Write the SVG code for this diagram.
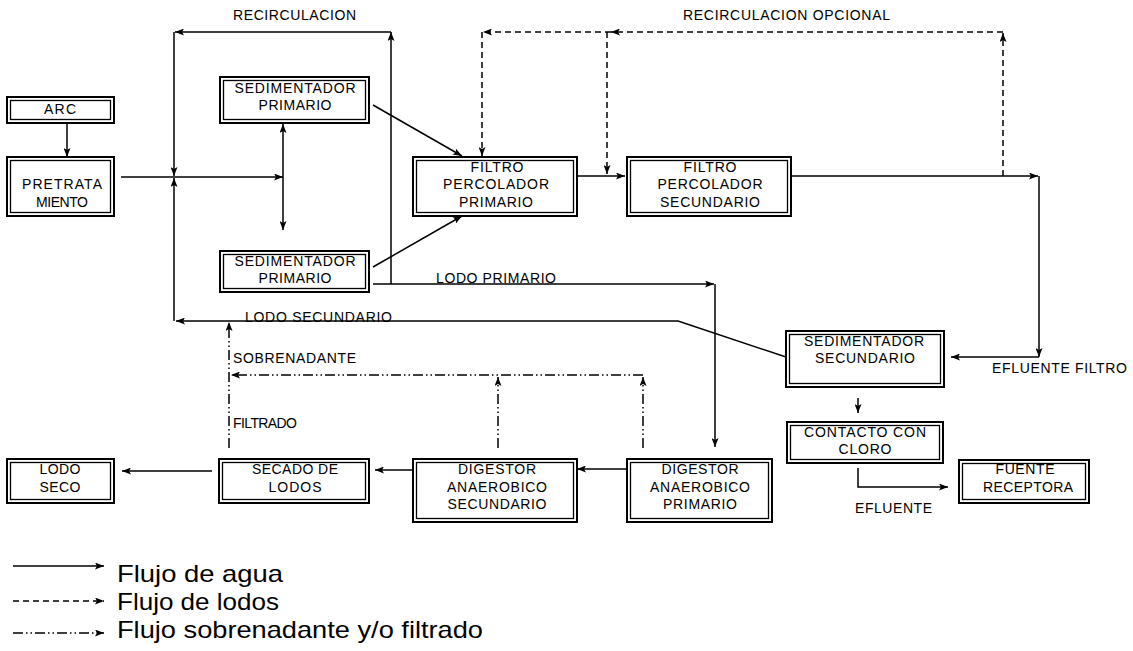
<svg xmlns="http://www.w3.org/2000/svg" width="1133" height="651" viewBox="0 0 1133 651">
<defs>
<style>
.o{fill:#fff;stroke:#000;stroke-width:2}
.i{fill:none;stroke:#000;stroke-width:1.3}
.t{font-family:"Liberation Sans",Arial,sans-serif;font-size:14px;fill:#000;text-anchor:middle}
.l{font-family:"Liberation Sans",Arial,sans-serif;font-size:14px;fill:#000}
.lg{font-family:"Liberation Sans",Arial,sans-serif;font-size:24px;fill:#000}
.s{fill:none;stroke:#000;stroke-width:1.5;marker-end:url(#ah)}
.d{fill:none;stroke:#000;stroke-width:1.5;stroke-dasharray:6 4;marker-end:url(#ah)}
.dd{fill:none;stroke:#000;stroke-width:1.5;stroke-dasharray:10 3 1.5 3 1.5 3;marker-end:url(#ah)}
</style>
<marker id="ah" viewBox="0 0 9 7" refX="9" refY="3.5" markerWidth="9" markerHeight="7" markerUnits="userSpaceOnUse" orient="auto-start-reverse">
<path d="M0,0 L9,3.5 L0,7 L2,3.5 z" fill="#000"/>
</marker>
</defs>
<rect width="1133" height="651" fill="#fff"/>

<g id="connectors">
<path class="s" d="M67,123 V157"/>
<path class="s" d="M121,177 H283"/>
<path class="s" d="M283,124 V230" style="marker-start:url(#ah)"/>
<path class="s" d="M391,284 V32"/>
<path class="s" d="M391,32 H175"/>
<path class="s" d="M174,32 V176"/>
<path class="s" d="M174,321 V178"/>
<path class="s" d="M786,357 L678,321 H176"/>
<path class="s" d="M373,105 L462,156"/>
<path class="s" d="M373,267 L462,216"/>
<path class="s" d="M570,176 H625"/>
<path class="s" d="M791,176 H1038"/>
<path class="s" d="M1039,176 V357"/>
<path class="s" d="M1039,357 H951"/>
<path class="s" d="M373,284 H714"/>
<path class="s" d="M715,284 V447"/>
<path class="s" d="M858,398 V413"/>
<path class="s" d="M858,468 V487 H948"/>
<path class="s" d="M627,469 H577"/>
<path class="s" d="M413,470 H375"/>
<path class="s" d="M212,471 H122"/>
<path class="d" d="M1003,176 V33"/>
<path class="d" d="M1003,32 H611"/>
<path class="d" d="M611,32 H483"/>
<path class="d" d="M482,32 V156"/>
<path class="d" d="M607,32 V174"/>
<path class="dd" d="M498,448 V377"/>
<path class="dd" d="M643,448 V377"/>
<path class="dd" d="M643,375 H231"/>
<path class="dd" d="M229,448 V322"/>
</g>

<g id="arc"><rect class="o" x="7" y="97" width="107" height="26"/><rect class="i" x="10.5" y="100.5" width="100" height="19"/><text class="t" x="60" y="114" textLength="32" lengthAdjust="spacing">ARC</text></g>
<g id="pretratamiento"><rect class="o" x="7" y="157" width="107" height="59"/><rect class="i" x="10.5" y="160.5" width="100" height="52"/><text class="t" x="62" y="189" textLength="80" lengthAdjust="spacing">PRETRATA</text><text class="t" x="62" y="207" textLength="52" lengthAdjust="spacing">MIENTO</text></g>
<g id="sed-primario-1"><rect class="o" x="220" y="77" width="149" height="46"/><rect class="i" x="223.5" y="80.5" width="142" height="39"/><text class="t" x="295" y="93" textLength="121" lengthAdjust="spacing">SEDIMENTADOR</text><text class="t" x="295" y="110" textLength="73" lengthAdjust="spacing">PRIMARIO</text></g>
<g id="sed-primario-2"><rect class="o" x="220" y="251" width="149" height="41"/><rect class="i" x="223.5" y="254.5" width="142" height="34"/><text class="t" x="295" y="266" textLength="121" lengthAdjust="spacing">SEDIMENTADOR</text><text class="t" x="295" y="283" textLength="73" lengthAdjust="spacing">PRIMARIO</text></g>
<g id="filtro-primario"><rect class="o" x="413" y="157" width="164" height="59"/><rect class="i" x="416.5" y="160.5" width="157" height="52"/><text class="t" x="497" y="172" textLength="53" lengthAdjust="spacing">FILTRO</text><text class="t" x="496" y="189" textLength="106" lengthAdjust="spacing">PERCOLADOR</text><text class="t" x="496" y="207" textLength="74" lengthAdjust="spacing">PRIMARIO</text></g>
<g id="filtro-secundario"><rect class="o" x="627" y="157" width="164" height="59"/><rect class="i" x="630.5" y="160.5" width="157" height="52"/><text class="t" x="710" y="172" textLength="53" lengthAdjust="spacing">FILTRO</text><text class="t" x="710" y="189" textLength="105" lengthAdjust="spacing">PERCOLADOR</text><text class="t" x="710" y="207" textLength="100" lengthAdjust="spacing">SECUNDARIO</text></g>
<g id="sed-secundario"><rect class="o" x="786" y="331" width="158" height="56"/><rect class="i" x="789.5" y="334.5" width="151" height="49"/><text class="t" x="864" y="346" textLength="120" lengthAdjust="spacing">SEDIMENTADOR</text><text class="t" x="865" y="363" textLength="100" lengthAdjust="spacing">SECUNDARIO</text></g>
<g id="contacto-cloro"><rect class="o" x="787" y="422" width="156" height="41"/><rect class="i" x="790.5" y="425.5" width="149" height="34"/><text class="t" x="865" y="437" textLength="122" lengthAdjust="spacing">CONTACTO CON</text><text class="t" x="865" y="454" textLength="53" lengthAdjust="spacing">CLORO</text></g>
<g id="fuente-receptora"><rect class="o" x="959" y="460" width="130" height="43"/><rect class="i" x="962.5" y="463.5" width="123" height="36"/><text class="t" x="1025" y="474" textLength="59" lengthAdjust="spacing">FUENTE</text><text class="t" x="1028" y="492" textLength="90" lengthAdjust="spacing">RECEPTORA</text></g>
<g id="digestor-primario"><rect class="o" x="627" y="459" width="145" height="63"/><rect class="i" x="630.5" y="462.5" width="138" height="56"/><text class="t" x="700" y="474" textLength="77" lengthAdjust="spacing">DIGESTOR</text><text class="t" x="700" y="492" textLength="100" lengthAdjust="spacing">ANAEROBICO</text><text class="t" x="700" y="509" textLength="74" lengthAdjust="spacing">PRIMARIO</text></g>
<g id="digestor-secundario"><rect class="o" x="413" y="459" width="164" height="63"/><rect class="i" x="416.5" y="462.5" width="157" height="56"/><text class="t" x="497" y="474" textLength="78" lengthAdjust="spacing">DIGESTOR</text><text class="t" x="497" y="492" textLength="100" lengthAdjust="spacing">ANAEROBICO</text><text class="t" x="497" y="509" textLength="99" lengthAdjust="spacing">SECUNDARIO</text></g>
<g id="secado-lodos"><rect class="o" x="219" y="459" width="150" height="44"/><rect class="i" x="222.5" y="462.5" width="143" height="37"/><text class="t" x="295" y="474" textLength="86" lengthAdjust="spacing">SECADO DE</text><text class="t" x="295" y="492" textLength="53" lengthAdjust="spacing">LODOS</text></g>
<g id="lodo-seco"><rect class="o" x="7" y="459" width="107" height="44"/><rect class="i" x="10.5" y="462.5" width="100" height="37"/><text class="t" x="60" y="474" textLength="41" lengthAdjust="spacing">LODO</text><text class="t" x="60" y="492" textLength="41" lengthAdjust="spacing">SECO</text></g>

<g id="labels">
<text class="l" x="233" y="20" textLength="123" lengthAdjust="spacing">RECIRCULACION</text>
<text class="l" x="683" y="20" textLength="207" lengthAdjust="spacing">RECIRCULACION OPCIONAL</text>
<text class="l" x="436" y="283" textLength="120" lengthAdjust="spacing">LODO PRIMARIO</text>
<text class="l" x="245" y="322" textLength="147" lengthAdjust="spacing">LODO SECUNDARIO</text>
<text class="l" x="233" y="363" textLength="123" lengthAdjust="spacing">SOBRENADANTE</text>
<text class="l" x="233" y="428" textLength="64" lengthAdjust="spacing">FILTRADO</text>
<text class="l" x="992" y="373" textLength="135" lengthAdjust="spacing">EFLUENTE FILTRO</text>
<text class="l" x="855" y="513" textLength="77" lengthAdjust="spacing">EFLUENTE</text>
</g>

<g id="legend">
<path class="s" d="M13,566 H104"/>
<path class="d" d="M13,601 H104"/>
<path class="dd" d="M13,633 H104"/>
<text class="lg" x="117" y="582" textLength="166" lengthAdjust="spacingAndGlyphs">Flujo de agua</text>
<text class="lg" x="117" y="610" textLength="162" lengthAdjust="spacingAndGlyphs">Flujo de lodos</text>
<text class="lg" x="117" y="638" textLength="366" lengthAdjust="spacingAndGlyphs">Flujo sobrenadante y/o filtrado</text>
</g>
</svg>
